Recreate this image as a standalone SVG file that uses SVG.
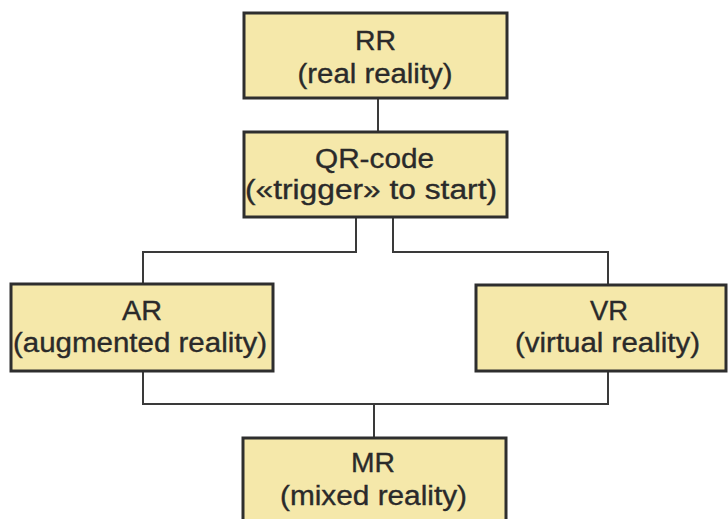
<svg xmlns="http://www.w3.org/2000/svg" width="728" height="519" viewBox="0 0 728 519">
  <style>
    .box { fill: #F5E8AA; stroke: #2e2e2e; stroke-width: 3; }
    .lbl { font-family: "Liberation Sans", Arial, sans-serif; font-size: 27px; fill: #2a2a2a; stroke: #2a2a2a; stroke-width: 0.35; text-anchor: middle; }
    .wire { fill: none; stroke: #3a3a3a; stroke-width: 2; }
  </style>
  <rect width="728" height="519" fill="#ffffff"/>

  <!-- connectors -->
  <g id="connectors">
    <path class="wire" d="M378 98 V132"/>
    <path class="wire" d="M356 217 V252 H143 V284"/>
    <path class="wire" d="M393 217 V252 H608 V285"/>
    <path class="wire" d="M143 371 V404 H608 V371"/>
    <path class="wire" d="M374 404 V438"/>
  </g>

  <!-- nodes -->
  <g id="node-rr">
    <rect class="box" x="244" y="13" width="263" height="85"/>
    <text class="lbl" x="375.5" y="50" textLength="41" lengthAdjust="spacingAndGlyphs">RR</text>
    <text class="lbl" x="375" y="83" textLength="155" lengthAdjust="spacingAndGlyphs">(real reality)</text>
  </g>

  <g id="node-qr">
    <rect class="box" x="244" y="132" width="263" height="85"/>
    <text class="lbl" x="374.5" y="168" textLength="119" lengthAdjust="spacingAndGlyphs">QR-code</text>
    <text class="lbl" x="371" y="199" textLength="252" lengthAdjust="spacingAndGlyphs">(«trigger» to start)</text>
  </g>

  <g id="node-ar">
    <rect class="box" x="11" y="284" width="262" height="87"/>
    <text class="lbl" x="142" y="320" textLength="40" lengthAdjust="spacingAndGlyphs">AR</text>
    <text class="lbl" x="140" y="352" textLength="254" lengthAdjust="spacingAndGlyphs">(augmented reality)</text>
  </g>

  <g id="node-vr">
    <rect class="box" x="476" y="285" width="250" height="86"/>
    <text class="lbl" x="609" y="320" textLength="38" lengthAdjust="spacingAndGlyphs">VR</text>
    <text class="lbl" x="607.5" y="352" textLength="185" lengthAdjust="spacingAndGlyphs">(virtual reality)</text>
  </g>

  <g id="node-mr">
    <rect class="box" x="243" y="438" width="263" height="90"/>
    <text class="lbl" x="373" y="472" textLength="44" lengthAdjust="spacingAndGlyphs">MR</text>
    <text class="lbl" x="373.5" y="505" textLength="187" lengthAdjust="spacingAndGlyphs">(mixed reality)</text>
  </g>
</svg>
